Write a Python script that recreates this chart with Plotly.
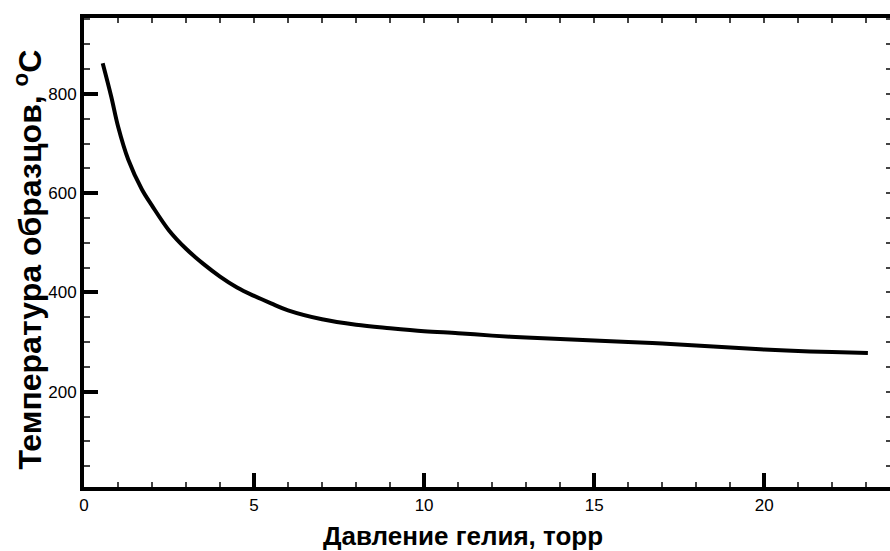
import plotly.graph_objects as go

# Data
pressure_torr = [0.55, 0.8, 1.0, 1.3, 1.7, 2.0, 2.5, 3.0, 3.5, 4.0, 4.5, 5.0, 5.5, 6.0,
                 7.0, 8.0, 9.0, 10.0, 11.0, 12.0, 13.0, 14.0, 15.0, 16.0, 17.0, 18.0,
                 19.0, 20.0, 21.0, 22.0, 23.05]
temperature_c = [862, 795, 735, 668, 608, 575, 525, 488, 458, 432, 410, 393, 378, 364,
                 346, 335, 328, 322, 318, 313, 309, 306, 303, 300, 297, 293,
                 289, 285, 282, 280, 278]

x_ticks = [0, 5, 10, 15, 20]
y_ticks = [200, 400, 600, 800]

x_title = "Давление гелия, торр"
y_title = "Температура образцов, <sup>o</sup>C"

X_RANGE = [0, 23.7]
Y_RANGE = [8, 953]

fig = go.Figure()
fig.add_trace(go.Scatter(
    x=pressure_torr, y=temperature_c, mode="lines",
    line=dict(color="black", width=4, shape="spline"),
    showlegend=False, hoverinfo="skip",
))
# same series bound to the mirrored top/right axes so they get drawn (invisible)
fig.add_trace(go.Scatter(
    x=pressure_torr, y=temperature_c, mode="lines", xaxis="x2", yaxis="y2",
    line=dict(color="rgba(0,0,0,0)", width=0),
    showlegend=False, hoverinfo="skip",
))

tick_font = dict(family="Liberation Sans, Arial, sans-serif", size=17, color="black")
title_font = dict(family="Liberation Sans, Arial, sans-serif", color="black", weight="bold")

fig.update_layout(
    width=890, height=551,
    margin=dict(l=84, r=0, t=18, b=64),
    paper_bgcolor="white", plot_bgcolor="white",
    showlegend=False,
    xaxis=dict(
        range=X_RANGE, tickvals=x_ticks, ticktext=[str(v) for v in x_ticks],
        ticks="inside", ticklen=14, tickwidth=4, tickcolor="black",
        minor=dict(dtick=1, ticks="inside", ticklen=5, tickwidth=1.5, tickcolor="#444"),
        showline=True, linewidth=4, linecolor="black",
        showgrid=False, zeroline=False, tickfont=tick_font,
    ),
    yaxis=dict(
        range=Y_RANGE, tickvals=y_ticks, ticktext=[str(v) for v in y_ticks],
        ticks="inside", ticklen=14, tickwidth=4, tickcolor="black",
        minor=dict(dtick=50, tick0=0, ticks="inside", ticklen=6, tickwidth=1.5, tickcolor="#444"),
        showline=True, linewidth=4, linecolor="black",
        showgrid=False, zeroline=False, tickfont=tick_font,
    ),
    xaxis2=dict(
        range=X_RANGE, overlaying="x", side="top", anchor="y2",
        tick0=0, dtick=1, ticks="inside", ticklen=5, tickwidth=1.5, tickcolor="#444",
        showticklabels=False, showline=True, linewidth=4, linecolor="black",
        showgrid=False, zeroline=False,
    ),
    yaxis2=dict(
        range=Y_RANGE, overlaying="y", side="right", anchor="x2",
        tick0=0, dtick=50, ticks="inside", ticklen=4, tickwidth=1.5, tickcolor="#444",
        showticklabels=False, showline=False,
        showgrid=False, zeroline=False,
    ),
    annotations=[
        dict(text=x_title, xref="paper", yref="paper", x=(463 - 84) / 806, y=-0.104,
             xanchor="center", yanchor="middle", showarrow=False,
             font=dict(size=26, **title_font)),
        dict(text=y_title, xref="paper", yref="paper", x=-0.07, y=0.484,
             xanchor="center", yanchor="middle", showarrow=False, textangle=-90,
             font=dict(size=32, **title_font)),
    ],
)

fig.write_html("out.html")
